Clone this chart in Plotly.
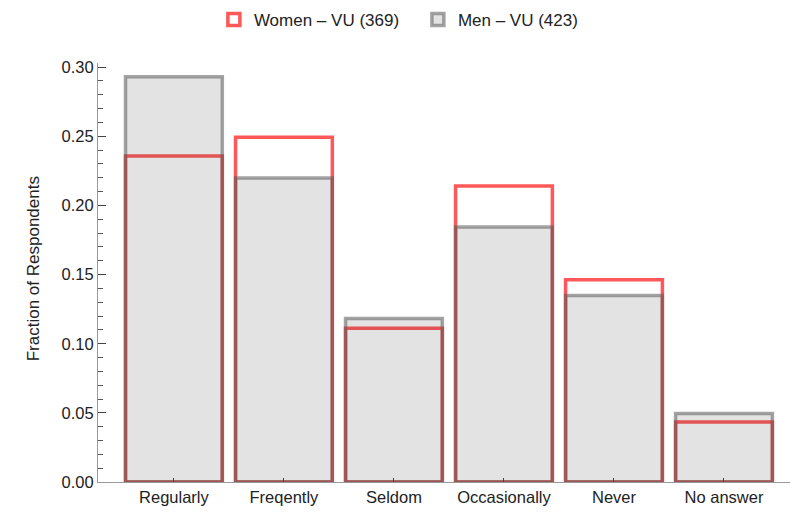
import plotly.graph_objects as go

categories = ["Regularly", "Freqently", "Seldom", "Occasionally", "Never", "No answer"]
women_vu = [0.2358, 0.2493, 0.1111, 0.2141, 0.1463, 0.0434]
men_vu = [0.2931, 0.2199, 0.1182, 0.1844, 0.1348, 0.0496]
series_names = ["Women – VU (369)", "Men – VU (423)"]
y_ticks = [0.0, 0.05, 0.10, 0.15, 0.20, 0.25, 0.30]
y_tick_labels = ["0.00", "0.05", "0.10", "0.15", "0.20", "0.25", "0.30"]
y_title = "Fraction of Respondents"

x_idx = list(range(len(categories)))
FONT = "Liberation Sans, Arial, sans-serif"

fig = go.Figure()
fig.add_trace(go.Bar(
    x=x_idx, y=women_vu, name=series_names[0], width=0.88,
    marker=dict(color="rgba(255,255,255,0)",
                line=dict(color="rgb(255,88,88)", width=3.5)),
))
fig.add_trace(go.Bar(
    x=x_idx, y=men_vu, name=series_names[1], width=0.88,
    marker=dict(color="rgba(60,60,60,0.14)",
                line=dict(color="rgba(90,90,90,0.55)", width=3.5)),
))

fig.update_layout(
    width=798, height=518,
    barmode="overlay",
    paper_bgcolor="white", plot_bgcolor="white",
    margin=dict(l=90, r=16, t=55, b=44, autoexpand=False),
    font=dict(family=FONT, size=16.5, color="#222"),
    showlegend=True,
    legend=dict(orientation="h", xref="container", yref="paper",
                x=0.258, xanchor="left", y=1.1026, yanchor="middle",
                font=dict(size=17, color="#222"), itemwidth=30,
                entrywidth=159, entrywidthmode="pixels",
                traceorder="normal"),
    xaxis=dict(
        automargin=False,
        range=[-0.69, 5.6], tickmode="array", tickvals=x_idx, ticktext=categories,
        ticks="inside", ticklen=4, tickcolor="#444", tickwidth=1,
        showline=True, linecolor="#999", linewidth=1.2,
        showgrid=False, zeroline=False,
        tickfont=dict(size=16.5, color="#222"),
    ),
    yaxis=dict(
        automargin=False,
        range=[0, 0.303], tickmode="array", tickvals=y_ticks, ticktext=y_tick_labels,
        ticks="inside", ticklen=8, tickcolor="#444", tickwidth=1,
        minor=dict(dtick=0.01, tick0=0, ticks="inside", ticklen=5, tickcolor="#555", tickwidth=1),
        showline=True, linecolor="#999", linewidth=1.2,
        showgrid=False, zeroline=False,
        tickfont=dict(size=16.5, color="#222"),
    ),
    annotations=[dict(
        text=y_title, textangle=-90, showarrow=False,
        xref="paper", yref="paper", x=-0.094, y=0.51,
        xanchor="center", yanchor="middle",
        font=dict(family=FONT, size=17, color="#222"),
    )],
)

fig.write_html("out.html")
